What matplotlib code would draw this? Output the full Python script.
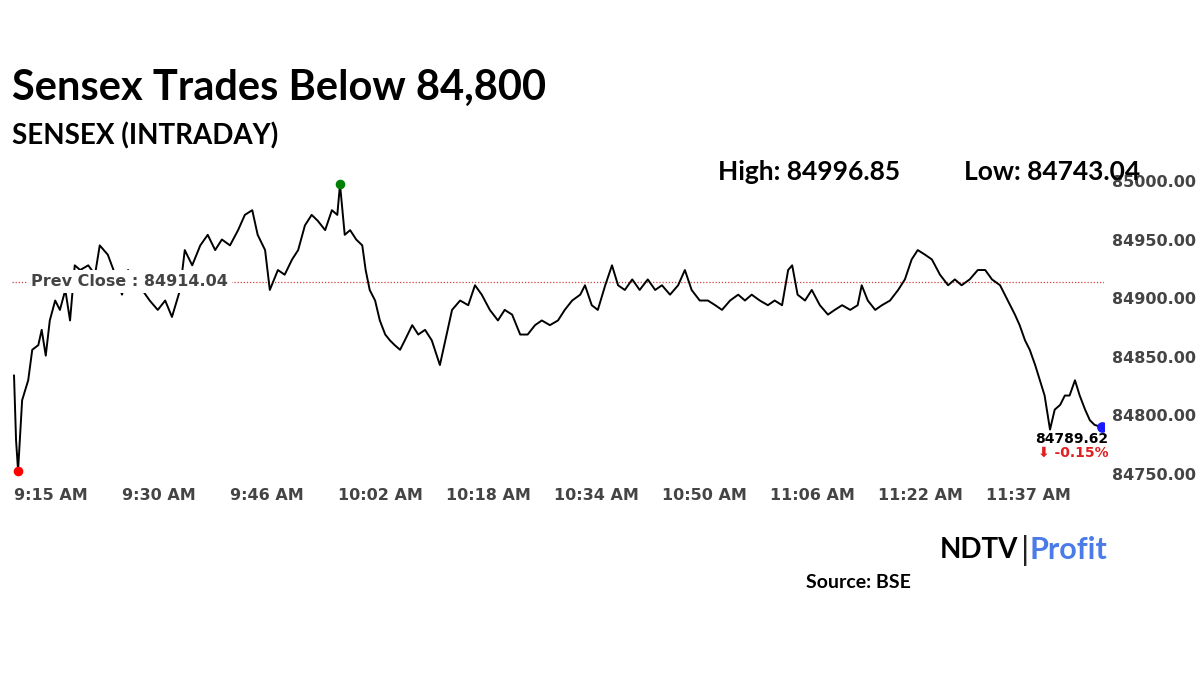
import matplotlib.pyplot as plt

# minutes after 9:15 and SENSEX level
minutes = [0, 0.3, 0.6, 1.2, 2.1, 2.7, 3.6, 4.1, 4.7, 5.3, 6.1, 6.8, 7.6, 8.3, 9.0, 9.8, 11.0, 12.0, 12.7, 13.9,
           15.0, 16.0, 16.9, 17.9, 19.0, 20.1, 21.3, 22.4, 23.4, 24.6, 25.3, 26.4, 27.6, 28.7, 29.8, 30.8, 32.0,
           33.2, 34.2, 35.3, 36.1, 37.2, 37.9, 39.1, 40.1, 41.2, 42.1, 43.1, 44.1, 45.0, 46.1, 47.1, 47.9, 48.3,
           49.0, 49.8, 50.7, 51.6, 52.1, 52.7, 53.5, 54.2, 55.0, 55.7, 56.4, 57.2, 57.9, 59.0, 59.9, 60.9, 61.9,
           63.1, 63.9, 64.9, 66.1, 67.3, 68.3, 69.3, 70.5, 71.7, 72.7, 73.8, 75.0, 76.1, 77.2, 78.2, 79.4, 80.6,
           81.6, 82.7, 83.9, 84.6, 85.6, 86.5, 87.6, 88.6, 89.5, 90.5, 91.6, 92.7, 93.9, 95.0, 96.0, 97.2, 98.4,
           99.4, 100.4, 101.6, 102.8, 103.9, 104.9, 106.1, 107.3, 108.3, 109.3, 110.5, 111.7, 112.7, 113.8,
           114.7, 115.3, 116.1, 117.2, 118.2, 119.4, 120.6, 121.6, 122.7, 123.9, 125.0, 125.6, 126.5, 127.6,
           128.6, 129.8, 131.0, 132.0, 133.0, 133.9, 135.0, 136.0, 137.2, 138.4, 139.4, 140.4, 141.6, 142.8,
           143.9, 144.9, 146.1, 146.8, 147.6, 148.3, 149.0, 149.8, 150.5, 151.3, 152.0, 152.7, 153.5, 154.2,
           155.0, 155.7, 156.4, 157.2, 157.9, 158.7, 159.4, 160.1, 161.2]
sensex = [84834, 84779, 84753, 84813, 84830, 84856, 84860, 84873, 84851, 84881, 84898, 84890, 84907, 84881,
          84928, 84924, 84928, 84920, 84945, 84937, 84920, 84903, 84924, 84916, 84907, 84898, 84890, 84898,
          84884, 84907, 84941, 84928, 84945, 84954, 84941, 84950, 84945, 84958, 84971, 84975, 84954, 84941,
          84907, 84924, 84920, 84933, 84941, 84962, 84971, 84966, 84958, 84975, 84971, 84997, 84954, 84958,
          84950, 84945, 84924, 84907, 84898, 84881, 84869, 84864, 84860, 84856, 84864, 84877, 84869, 84873,
          84864, 84843, 84864, 84890, 84898, 84894, 84911, 84903, 84890, 84881, 84890, 84886, 84869, 84869,
          84877, 84881, 84877, 84881, 84890, 84898, 84903, 84911, 84894, 84890, 84911, 84928, 84911, 84907,
          84916, 84907, 84916, 84907, 84911, 84903, 84911, 84924, 84907, 84898, 84898, 84894, 84890, 84898,
          84903, 84898, 84903, 84898, 84894, 84898, 84894, 84924, 84928, 84903, 84898, 84907, 84894, 84886,
          84890, 84894, 84890, 84894, 84911, 84898, 84890, 84894, 84898, 84907, 84916, 84933, 84941, 84937,
          84933, 84920, 84911, 84916, 84911, 84916, 84924, 84924, 84916, 84911, 84903, 84894, 84886, 84877,
          84864, 84856, 84843, 84830, 84817, 84788, 84805, 84809, 84817, 84817, 84830, 84817, 84805, 84796,
          84792, 84790]

tick_pos = [0, 16, 32, 48, 64, 80, 96, 112, 128, 144]
tick_labels = ["9:15 AM", "9:30 AM", "9:46 AM", "10:02 AM", "10:18 AM", "10:34 AM",
               "10:50 AM", "11:06 AM", "11:22 AM", "11:37 AM"]
y_ticks = [84750, 84800, 84850, 84900, 84950, 85000]
prev_close = 84914.04
high, low, last, change = 84996.85, 84743.04, 84789.62, -0.15

FONT = "Lato"
fig = plt.figure(figsize=(12, 6.75), dpi=100)
ax = fig.add_axes([12 / 1200, 195 / 675, 1092 / 1200, 305 / 675])

ax.plot(minutes, sensex, color="black", lw=1.4, zorder=3)
ax.axhline(prev_close, color="#d04040", lw=0.9, ls=(0, (1, 1.5)), zorder=2)
ax.text(2.5, prev_close, "Prev Close : 84914.04", fontsize=11.5, color="#444444", va="center",
        fontweight="bold", family="DejaVu Sans", bbox=dict(fc="white", ec="none", pad=3), zorder=4)

i_hi = sensex.index(max(sensex))
ax.scatter([minutes[1 + sensex[1:5].index(min(sensex[1:5]))]], [min(sensex)], s=35, color="red", zorder=5)
ax.scatter([minutes[i_hi]], [sensex[i_hi]], s=35, color="green", zorder=5)
ax.scatter([minutes[-1]], [sensex[-1]], s=45, color="#1a1aff", zorder=5)
ax.text(minutes[-1] + 1, last - 4, f"{last:.2f}", fontsize=10, ha="right", va="top",
        fontweight="bold", family="DejaVu Sans", color="black")
ax.text(minutes[-1] + 1, last - 15, f"\u2b07 {change:.2f}%", fontsize=10, ha="right", va="top",
        fontweight="bold", family="DejaVu Sans", color="#e02020")

ax.set_xlim(-0.3, 161.5)
ax.set_ylim(84745, 85005)
ax.set_xticks(tick_pos)
ax.set_xticklabels(tick_labels, ha="left", family="DejaVu Sans", fontsize=11.5,
                   fontweight="bold", color="#444444")
ax.yaxis.tick_right()
ax.set_yticks(y_ticks)
ax.set_yticklabels([f"{v:.2f}" for v in y_ticks], family="DejaVu Sans", fontsize=11.5,
                   fontweight="bold", color="#444444")
ax.tick_params(length=0, pad=6)
for s in ax.spines.values():
    s.set_visible(False)

fig.text(12 / 1200, 1 - 88 / 675, "Sensex Trades Below 84,800", fontsize=30, fontweight="bold",
         family=FONT, va="center")
fig.text(12 / 1200, 1 - 136 / 675, "SENSEX (INTRADAY)", fontsize=20, fontweight="bold",
         family=FONT, va="center")
fig.text(718 / 1200, 1 - 172 / 675, f"High: {high:.2f}", fontsize=19, fontweight="bold",
         family=FONT, va="center")
fig.text(964 / 1200, 1 - 172 / 675, f"Low: {low:.2f}", fontsize=19, fontweight="bold",
         family=FONT, va="center")
fig.text(1018 / 1200, 1 - 550 / 675, "NDTV", fontsize=20, fontweight="bold", family=FONT,
         ha="right", va="center")
fig.text(1021 / 1200, 1 - 550 / 675, "|", fontsize=24, family=FONT, va="center", color="#222222")
fig.text(1030 / 1200, 1 - 550 / 675, "Profit", fontsize=22, fontweight="bold", family=FONT,
         va="center", color="#4a7be8")
fig.text(806 / 1200, 1 - 582 / 675, "Source: BSE", fontsize=14, fontweight="bold", family=FONT,
         va="center")

fig.savefig("out.png", dpi=100)
